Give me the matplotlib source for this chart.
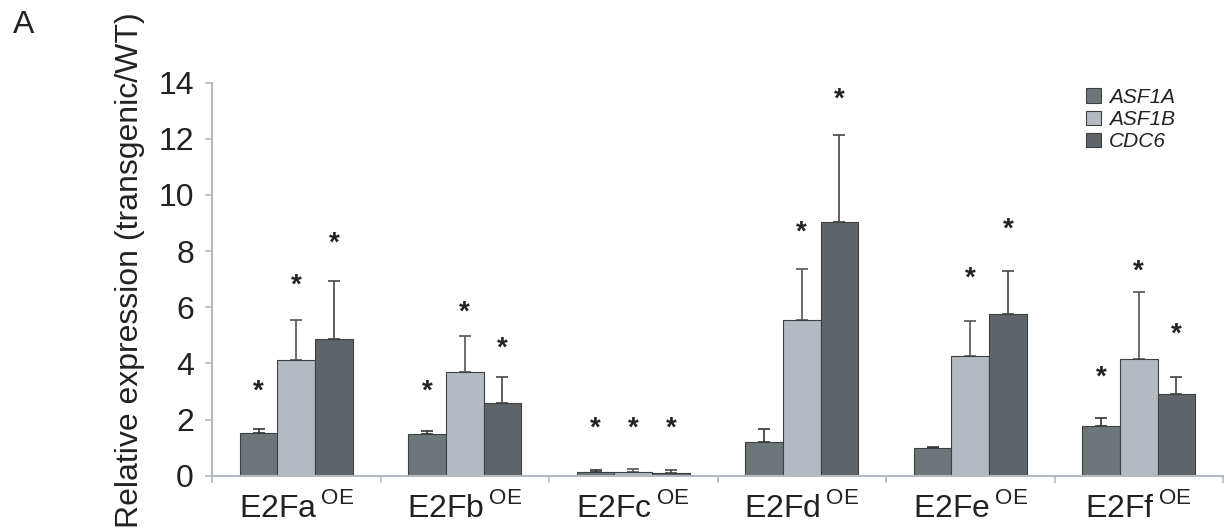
#import libraries
import matplotlib.pyplot as plt
import numpy as np

plt.rcParams['font.family'] = ['Liberation Sans', 'DejaVu Sans']
plt.rcParams['mathtext.fontset'] = 'custom'
plt.rcParams['mathtext.rm'] = 'Liberation Sans'

#Data Definition
lines = ['E2Fa', 'E2Fb', 'E2Fc', 'E2Fd', 'E2Fe', 'E2Ff']
genes = ['ASF1A', 'ASF1B', 'CDC6']

asf1a = [1.52, 1.48, 0.14, 1.21, 0.98, 1.78]
asf1a_err = [0.16, 0.13, 0.05, 0.45, 0.06, 0.26]
asf1a_star = [3.3, 3.3, 2.0, None, None, 3.8]

asf1b = [4.11, 3.68, 0.13, 5.56, 4.25, 4.16]
asf1b_err = [1.45, 1.30, 0.10, 1.79, 1.25, 2.39]
asf1b_star = [7.1, 6.13, 2.0, 8.98, 7.35, 7.6]

cdc6 = [4.88, 2.60, 0.09, 9.05, 5.76, 2.91]
cdc6_err = [2.04, 0.90, 0.10, 3.07, 1.53, 0.59]
cdc6_star = [8.6, 4.85, 2.0, 13.7, 9.1, 5.35]

colors = ['#6f7679', '#b4bac1', '#5e6467']
err_colors = ['#333333', '#555555', '#444444']

#Create Figure
fig = plt.figure(figsize=(12.24, 5.28), dpi=100)
ax = fig.add_axes([212/1224, 1-475.7/528, 1011/1224, 393/528])

x = np.arange(len(lines))
w = 0.224
series = [(asf1a, asf1a_err, asf1a_star), (asf1b, asf1b_err, asf1b_star),
          (cdc6, cdc6_err, cdc6_star)]
for i, (vals, errs, stars) in enumerate(series):
    pos = x + (i - 1) * w
    ax.bar(pos, vals, w, color=colors[i], edgecolor='#3b4043', linewidth=0.8,
           label=genes[i], zorder=2)
    ax.errorbar(pos, vals, yerr=[np.zeros(len(errs)), errs], fmt='none',
                ecolor=err_colors[i], elinewidth=1.2, capsize=4.5, capthick=1.2, zorder=1)
    for p, s in zip(pos, stars):
        if s is not None:
            ax.annotate('*', (p, s), xytext=(0, -11.5), textcoords='offset points',
                        ha='center', va='baseline', fontsize=20, fontweight='bold',
                        color='#222222')

#Modify figure's appearance
ax.set_xlim(-0.5, 5.5)
ax.set_ylim(0, 14)
ax.set_yticks(range(0, 15, 2))
ax.set_xticks(x)
ax.set_xticklabels([l + r'$\,^{\mathrm{OE}}$' for l in lines], fontsize=23, color='#222222')
ax.set_xticks(np.arange(-0.5, 6, 1), minor=True)
ax.tick_params(axis='x', which='major', length=0, pad=12)
ax.tick_params(axis='x', which='minor', length=5, width=1.2, color='#b4bac0', direction='out')
ax.tick_params(axis='y', length=5, width=1.2, color='#b4bac0', labelsize=23,
               labelcolor='#222222', pad=8)
for s in ['top', 'right']:
    ax.spines[s].set_visible(False)
for s in ['left', 'bottom']:
    ax.spines[s].set_color('#b4bac0')
    ax.spines[s].set_linewidth(1.5)

fig.text(130/1224, 1-270/528, 'Relative expression (transgenic/WT)', rotation=90,
         ha='center', va='center', fontsize=23, color='#222222')
fig.text(24/1224, 1-25/528, 'A', ha='center', va='center', fontsize=23, color='#222222')

leg = ax.legend(loc='upper left', bbox_to_anchor=(1086/1224, 1-88/528),
                bbox_transform=fig.transFigure, frameon=False, fontsize=15,
                handlelength=0.7, handleheight=0.7, handletextpad=0.4,
                labelspacing=0.15, borderpad=0, borderaxespad=0)
for t in leg.get_texts():
    t.set_fontstyle('italic')
    t.set_color('#222222')

plt.savefig('out.png', dpi=100)
